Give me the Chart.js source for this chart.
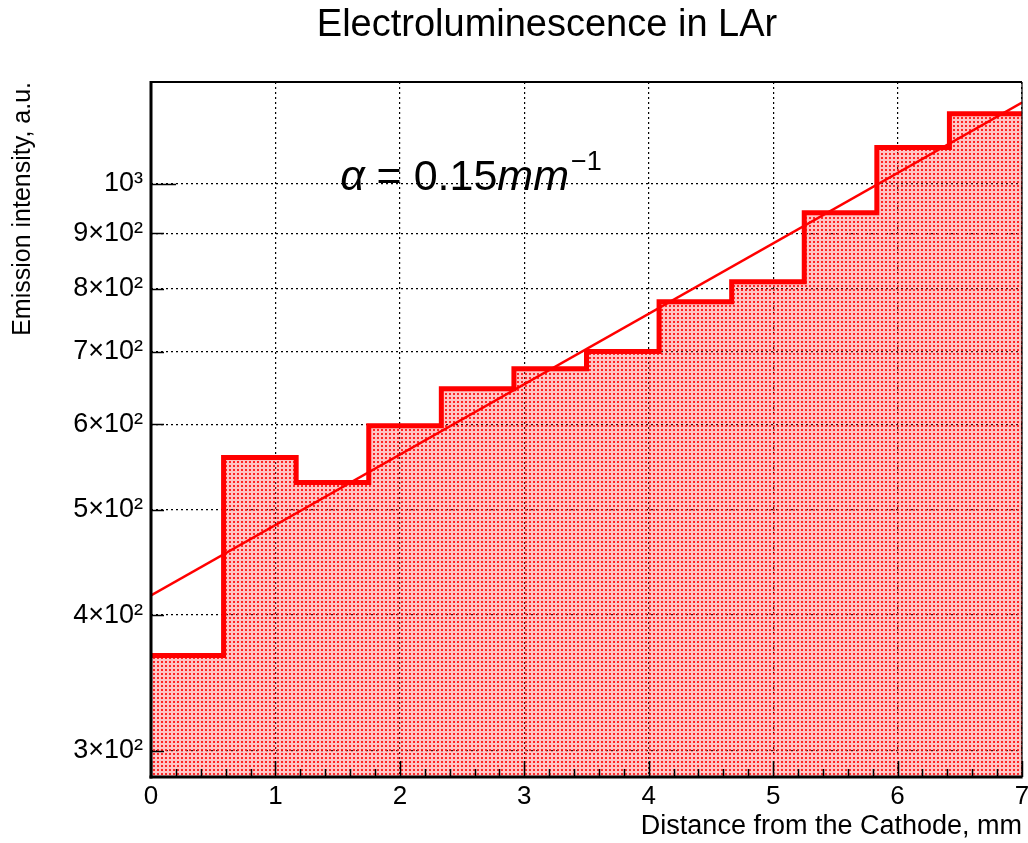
<!DOCTYPE html>
<html>
<head>
<meta charset="utf-8">
<script src="https://cdn.jsdelivr.net/npm/chart.js@4/dist/chart.umd.min.js"></script>
<style>
html,body{margin:0;padding:0;background:#fff;}
#wrap{width:1028px;height:843px;}
</style>
</head>
<body>
<div id="wrap"><canvas id="c" width="1028" height="843"></canvas></div>
<script>
// ---- data ----
const binEdges = [0, 0.5833, 1.1667, 1.75, 2.3333, 2.9167, 3.5, 4.0833, 4.6667, 5.25, 5.8333, 6.4167, 7];
const binValues = [367, 559, 530, 598, 647, 675, 700, 778, 812, 940, 1080, 1160];
const fitX = [0, 7];
const fitY = [417, 1188];
const xTickValues = [0, 1, 2, 3, 4, 5, 6, 7];
const xTickLabels = ['0', '1', '2', '3', '4', '5', '6', '7'];
const yTickValues = [300, 400, 500, 600, 700, 800, 900, 1000];
const yTickLabels = ['3×10²', '4×10²', '5×10²', '6×10²', '7×10²', '8×10²', '9×10²', '10³'];
const titleText = 'Electroluminescence in LAr';
const xTitle = 'Distance from the Cathode, mm';
const yTitle = 'Emission intensity, a.u.';
const annotation = { x: 1.52, y: 987 };

const FONT = "'Liberation Sans', Arial, Helvetica, sans-serif";
Chart.defaults.font.family = FONT;
Chart.defaults.color = '#000';

// histogram points (lower edges + final edge)
const histPts = binValues.map((v, i) => ({ x: binEdges[i], y: v }));
histPts.push({ x: binEdges[binEdges.length - 1], y: binValues[binValues.length - 1] });
const fitPts = fitX.map((x, i) => ({ x: x, y: fitY[i] }));

const canvas = document.getElementById('c');
const ctx0 = canvas.getContext('2d');

function makePattern(ctx) {
  const c = document.createElement('canvas');
  c.width = 4; c.height = 4;
  const g = c.getContext('2d');
  const img = g.createImageData(4, 4);
  for (let j = 0; j < 4; j++) for (let i = 0; i < 4; i++) {
    const k = (j * 4 + i) * 4;
    const dot = (i === 1 || i === 2) && (j === 1 || j === 2);
    img.data[k] = 255;
    img.data[k + 1] = dot ? 20 : 60;
    img.data[k + 2] = dot ? 20 : 60;
    img.data[k + 3] = dot ? 235 : 75;
  }
  g.putImageData(img, 0, 0);
  return ctx.createPattern(c, 'repeat');
}

const framePlugin = {
  id: 'frame',
  beforeDraw(chart) {
    const c = chart.ctx;
    c.save(); c.fillStyle = '#fff'; c.fillRect(0, 0, chart.width, chart.height); c.restore();
  },
  afterLayout(chart) {
    // ROOT places the title a little left of the frame centre
    const tb = chart.titleBlock;
    if (tb) { tb.left = chart.chartArea.left - 85; tb.right = chart.chartArea.right + 6; }
  },
  afterDatasetsDraw(chart) {
    const { ctx, chartArea: a, scales: { x, y } } = chart;
    ctx.save();
    ctx.strokeStyle = '#000';
    ctx.lineWidth = 1.5;
    // x ticks (inside)
    for (let i = 0; i <= 35; i++) {
      const v = i * 0.2;
      const px = Math.round(x.getPixelForValue(v)) + 0.5;
      const len = (i % 5 === 0) ? 16 : 8;
      ctx.beginPath(); ctx.moveTo(px, a.bottom); ctx.lineTo(px, a.bottom - len); ctx.stroke();
    }
    // y ticks (inside)
    yTickValues.forEach(v => {
      const py = Math.round(y.getPixelForValue(v)) + 0.5;
      const len = (v === 1000) ? 25 : 13;
      ctx.beginPath(); ctx.moveTo(a.left, py); ctx.lineTo(a.left + len, py); ctx.stroke();
    });
    // frame
    ctx.lineWidth = 2;
    ctx.beginPath(); ctx.moveTo(a.left, a.top); ctx.lineTo(a.right, a.top); ctx.stroke();
    ctx.lineWidth = 1.2;
    ctx.beginPath(); ctx.moveTo(a.right, a.top); ctx.lineTo(a.right, a.bottom); ctx.stroke();
    ctx.lineWidth = 3;
    ctx.beginPath(); ctx.moveTo(a.left, a.top - 1); ctx.lineTo(a.left, a.bottom + 1.5); ctx.stroke();
    ctx.beginPath(); ctx.moveTo(a.left - 1.5, a.bottom); ctx.lineTo(a.right + 0.6, a.bottom); ctx.stroke();
    ctx.restore();
  },
  afterDraw(chart) {
    const { ctx, scales: { x, y } } = chart;
    const px = x.getPixelForValue(annotation.x);
    const py = y.getPixelForValue(annotation.y);
    ctx.save();
    ctx.fillStyle = '#000';
    ctx.textBaseline = 'alphabetic';
    ctx.textAlign = 'left';
    let cx = px;
    const size = 43;
    ctx.font = 'italic ' + size + 'px ' + FONT;
    ctx.fillText('α', cx, py); cx += ctx.measureText('α').width;
    ctx.font = size + 'px ' + FONT;
    ctx.fillText(' = 0.15', cx, py); cx += ctx.measureText(' = 0.15').width;
    ctx.font = 'italic ' + size + 'px ' + FONT;
    ctx.fillText('mm', cx, py); cx += ctx.measureText('mm').width + 2;
    ctx.font = Math.round(size * 0.62) + 'px ' + FONT;
    ctx.fillText('−1', cx, py - size * 0.45);
    ctx.restore();
  }
};

const pattern = makePattern(ctx0);

new Chart(canvas, {
  type: 'line',
  data: {
    datasets: [
      {
        label: 'fit',
        data: fitPts,
        borderColor: '#ff0000',
        borderWidth: 2.5,
        pointRadius: 0,
        fill: false,
        order: 0
      },
      {
        label: 'hist',
        data: histPts,
        stepped: true,
        borderColor: '#ff0000',
        borderWidth: 5,
        borderJoinStyle: 'miter',
        borderCapStyle: 'butt',
        pointRadius: 0,
        fill: 'start',
        backgroundColor: pattern,
        order: 1
      }
    ]
  },
  options: {
    responsive: false,
    animation: false,
    devicePixelRatio: 1,
    layout: { padding: { left: 0, right: 6, top: 0, bottom: 0 } },
    plugins: {
      legend: { display: false },
      tooltip: { enabled: false },
      title: {
        display: true,
        text: titleText,
        font: { size: 38, weight: 'normal', family: FONT },
        color: '#000',
        padding: { top: 3.2, bottom: 33.2 }
      }
    },
    scales: {
      x: {
        type: 'linear',
        min: 0, max: 7,
        afterBuildTicks: s => { s.ticks = xTickValues.map(v => ({ value: v })); },
        afterFit: s => { s.height = 66; s.paddingLeft = 0; s.paddingRight = 0; },
        ticks: {
          autoSkip: false, maxRotation: 0, padding: 4,
          font: { size: 26 }, color: '#000',
          callback: v => xTickLabels[xTickValues.indexOf(v)]
        },
        grid: { color: '#000', lineWidth: 1.2, drawTicks: false },
        border: { display: false, dash: [2, 3] },
        title: {
          display: true, text: xTitle, align: 'end',
          font: { size: 27 }, color: '#000',
          padding: { top: 0, bottom: 0 }
        }
      },
      y: {
        type: 'logarithmic',
        min: 283.6, max: 1241,
        afterBuildTicks: s => { s.ticks = yTickValues.map(v => ({ value: v })); },
        afterFit: s => { s.width = 151; s.paddingTop = 0; s.paddingBottom = 0; },
        ticks: {
          autoSkip: false, padding: 8,
          font: { size: 27 }, color: '#000',
          callback: v => yTickLabels[yTickValues.indexOf(v)]
        },
        grid: { color: '#000', lineWidth: 1.2, drawTicks: false },
        border: { display: false, dash: [2, 3] },
        title: {
          display: true, text: yTitle, align: 'end',
          font: { size: 25 }, color: '#000',
          padding: { top: 8, bottom: 0 }
        }
      }
    }
  },
  plugins: [framePlugin]
});
</script>
</body>
</html>
